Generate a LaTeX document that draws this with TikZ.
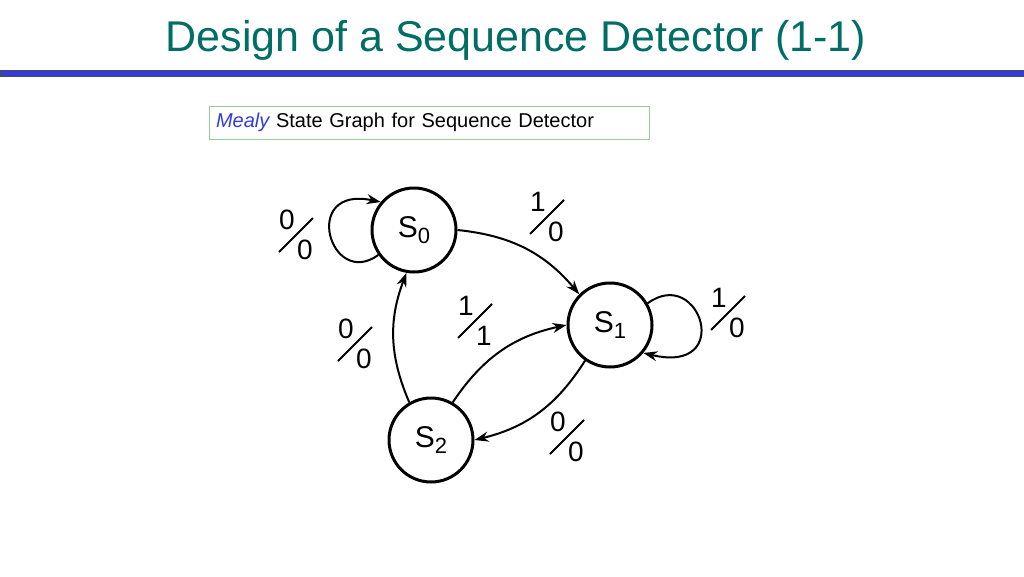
\documentclass[tikz,border=0pt]{standalone}
\usepackage{fontspec}
\setmainfont{Liberation Sans}
\usetikzlibrary{arrows.meta, calc}

\tikzset{
  state/.style = {draw, circle, line width = 3pt, minimum size = 84pt, inner sep = 0pt, font = \fontsize{30}{32}\selectfont},
  trans/.style = {-{Stealth[length = 14pt, width = 10pt]}, line width = 2pt},
  digit/.style = {inner sep = 0pt, font = \fontsize{28}{30}\selectfont}
}
\newcommand{\statename}[1]{S\raisebox{-6pt}{\fontsize{22}{22}\selectfont #1}}
\newcommand{\slashlabel}[3]{%
  \node [digit] at ($#1 + (-9, -16)$) {#2};
  \node [digit] at ($#1 + (9, 14)$) {#3};
  \draw [line width = 2pt] ($#1 + (-17, 16)$) -- ($#1 + (17, -18)$);
}

\begin{document}
\begin{tikzpicture}[x = 1pt, y = -1pt]
        \useasboundingbox (0, 0) rectangle (1024, 576);
        \definecolor{titleteal}{RGB}{0,110,100}
        \definecolor{rulerblue}{RGB}{50,60,220}
        \node [text = titleteal, font = \fontsize{43}{46}\selectfont] (title) at (516, 40) {Design of a Sequence Detector (1-1)};
        \draw [fill = rulerblue, draw = black!70, line width = 0.8pt] (0, 70) rectangle (1024, 76);
        \node [draw = green!50!black!40, line width = 0.8pt, minimum width = 440pt, minimum height = 33pt, text width = 426pt, align = left, font = \fontsize{20}{22}\selectfont] (caption) at (429, 122.5) {\textcolor{rulerblue}{\itshape Mealy} State Graph for Sequence Detector};
        \node [state] (s0) at (414, 230) {\statename{0}};
        \node [state] (s1) at (610, 325) {\statename{1}};
        \node [state] (s2) at (431, 440) {\statename{2}};
        \draw [trans] (s0.east) to [bend left = 22] (s1.135);
        \draw [trans] (s2.60) to [bend left = 22] (s1.180);
        \draw [trans] (s1.235) to [bend left = 22] (s2.0);
        \draw [trans] (s2.120) to [bend left = 22] (s0.260);
        \draw [trans] (s0.215) .. controls (330, 290) and (300, 185) .. (s0.140);
        \draw [trans] (s1.30) .. controls (700, 265) and (735, 375) .. (s1.320);
        \slashlabel{(296, 236)}{0}{0}
        \slashlabel{(547, 218)}{1}{0}
        \slashlabel{(728, 314)}{1}{0}
        \slashlabel{(475, 322)}{1}{1}
        \slashlabel{(355, 345)}{0}{0}
        \slashlabel{(567, 438)}{0}{0}
    \end{tikzpicture}
\end{document}
